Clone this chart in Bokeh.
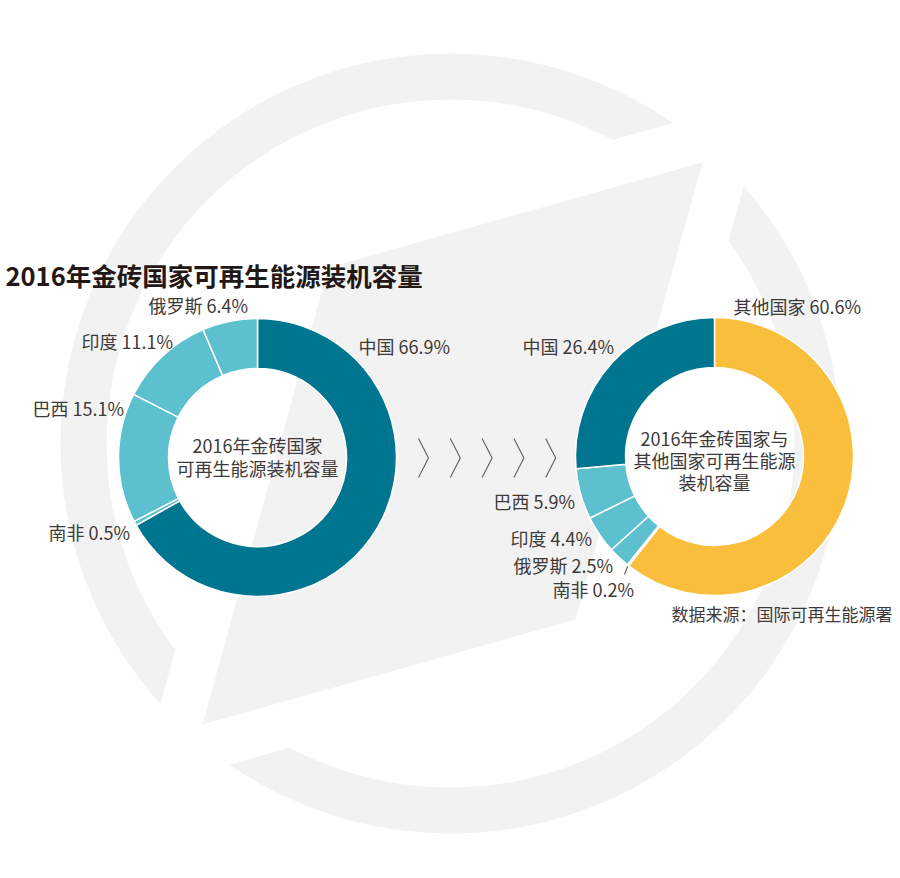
import math
from bokeh.plotting import figure
from bokeh.models import Range1d, ColumnDataSource
from bokeh.core.properties import value
from bokeh.embed import file_html
from bokeh.resources import INLINE

# ---------------- data ----------------
title_text = "2016年金砖国家可再生能源装机容量"
left_countries = ["中国", "南非", "巴西", "印度", "俄罗斯"]
left_shares = [66.9, 0.5, 15.1, 11.1, 6.4]
right_countries = ["其他国家", "南非", "俄罗斯", "印度", "巴西", "中国"]
right_shares = [60.6, 0.2, 2.5, 4.4, 5.9, 26.4]
left_center_lines = ["2016年金砖国家", "可再生能源装机容量"]
right_center_lines = ["2016年金砖国家与", "其他国家可再生能源", "装机容量"]
source_text = "数据来源：国际可再生能源署"

# ---------------- styles / layout ----------------
DARK = "#00758f"
LIGHT = "#5cc0cf"
YELLOW = "#f9be3c"
BG_GRAY = "#f2f2f2"
TXT = "#3e3a39"
FONT = "Noto Sans CJK SC"
color_of = {"中国": DARK, "其他国家": YELLOW}

W, H = 900, 878


def fy(py):
    return H - py


p = figure(width=W, height=H, x_range=Range1d(0, W), y_range=Range1d(0, H),
           output_backend="svg", toolbar_location=None,
           x_axis_location=None, y_axis_location=None, min_border=0)
p.grid.visible = False
p.outline_line_color = None
p.background_fill_color = "white"
p.border_fill_color = "white"

# ---------------- decorative background ----------------
ring_c = (450, 443)
p.annulus(x=ring_c[0], y=fy(ring_c[1]), inner_radius=344, outer_radius=390,
          fill_color=BG_GRAY, line_color=None)

arrow = [(702, 162), (328, 267), (202, 724), (575, 619)]


def expand(poly, m):
    cx = sum(q[0] for q in poly) / len(poly)
    cy = sum(q[1] for q in poly) / len(poly)
    lines = []
    n = len(poly)
    for i in range(n):
        (x1, y1), (x2, y2) = poly[i], poly[(i + 1) % n]
        dx, dy = x2 - x1, y2 - y1
        L = math.hypot(dx, dy)
        nx, ny = -dy / L, dx / L
        mx, my = (x1 + x2) / 2, (y1 + y2) / 2
        if (mx - cx) * nx + (my - cy) * ny < 0:
            nx, ny = -nx, -ny
        lines.append(((x1 + nx * m, y1 + ny * m), (dx, dy)))
    out = []
    for i in range(n):
        (p1, d1), (p2, d2) = lines[i - 1], lines[i]
        den = d1[0] * d2[1] - d1[1] * d2[0]
        t = ((p2[0] - p1[0]) * d2[1] - (p2[1] - p1[1]) * d2[0]) / den
        out.append((p1[0] + d1[0] * t, p1[1] + d1[1] * t))
    return out


cut = expand(arrow, 46)
p.patch(x=[q[0] for q in cut], y=[fy(q[1]) for q in cut], fill_color="white", line_color=None)
p.patch(x=[q[0] for q in arrow], y=[fy(q[1]) for q in arrow], fill_color=BG_GRAY, line_color=None)

# chevrons
chev_x, chev_y = [], []
for i in range(5):
    x0 = 418 + 31.8 * i
    chev_x.append([x0, x0 + 10, x0])
    chev_y.append([fy(438), fy(457.5), fy(477)])
p.multi_line(xs=chev_x, ys=chev_y, line_color="#5f5d5d", line_width=1.1)


# ---------------- donuts ----------------
def donut(names, shares, cx, cy, r_in, r_out):
    tot = sum(shares)
    starts, ends, cols = [], [], []
    c = 0.0
    for nm, v in zip(names, shares):
        starts.append(math.pi / 2 - 2 * math.pi * c / tot)
        c += v
        ends.append(math.pi / 2 - 2 * math.pi * c / tot)
        cols.append(color_of.get(nm, LIGHT))
    src = ColumnDataSource(dict(start=starts, end=ends, color=cols, name=names, share=shares))
    p.annular_wedge(x=cx, y=fy(cy), inner_radius=r_in, outer_radius=r_out,
                    start_angle="start", end_angle="end", direction="clock",
                    fill_color="color", line_color="white", line_width=1.5, source=src)


donut(left_countries, left_shares, 257, 457, 89, 139)
donut(right_countries, right_shares, 714, 456, 89, 139)

# ---------------- labels ----------------
left_label_pos = {"中国": (358, 345), "南非": (48, 531), "巴西": (32, 407),
                  "印度": (81, 340), "俄罗斯": (148, 304)}
right_label_pos = {"其他国家": (733, 305), "南非": (552, 588), "俄罗斯": (513, 564),
                   "印度": (510, 537), "巴西": (493, 500), "中国": (522, 345)}

lx, ly, lt = [], [], []
for nm, v in zip(left_countries, left_shares):
    x, y = left_label_pos[nm]
    lx.append(x); ly.append(fy(y)); lt.append(f"{nm} {v}%")
for nm, v in zip(right_countries, right_shares):
    x, y = right_label_pos[nm]
    lx.append(x); ly.append(fy(y)); lt.append(f"{nm} {v}%")
p.text(x=lx, y=ly, text=lt, text_font=value(FONT), text_font_size=value("18px"),
       text_color=TXT, text_align="left", text_baseline="middle")

# leader for right South Africa
p.line(x=[627, 624], y=[fy(566), fy(574)], line_color=TXT, line_width=1)

# center texts
p.text(x=[257] * 2, y=[fy(444), fy(467)], text=left_center_lines, text_font=value(FONT),
       text_font_size=value("18px"), text_color=TXT, text_align="center", text_baseline="middle")
p.text(x=[714] * 3, y=[fy(437), fy(459), fy(481)], text=right_center_lines, text_font=value(FONT),
       text_font_size=value("18px"), text_color=TXT, text_align="center", text_baseline="middle")

# title
p.text(x=[5], y=[fy(274)], text=[title_text], text_font=value(FONT), text_font_size=value("25.5px"),
       text_font_style="bold", text_color="#231815", text_align="left", text_baseline="middle")

# source
p.text(x=[892], y=[fy(613)], text=[source_text], text_font=value(FONT), text_font_size=value("17px"),
       text_color=TXT, text_align="right", text_baseline="middle")

open("out.html", "w").write(file_html(p, INLINE))
